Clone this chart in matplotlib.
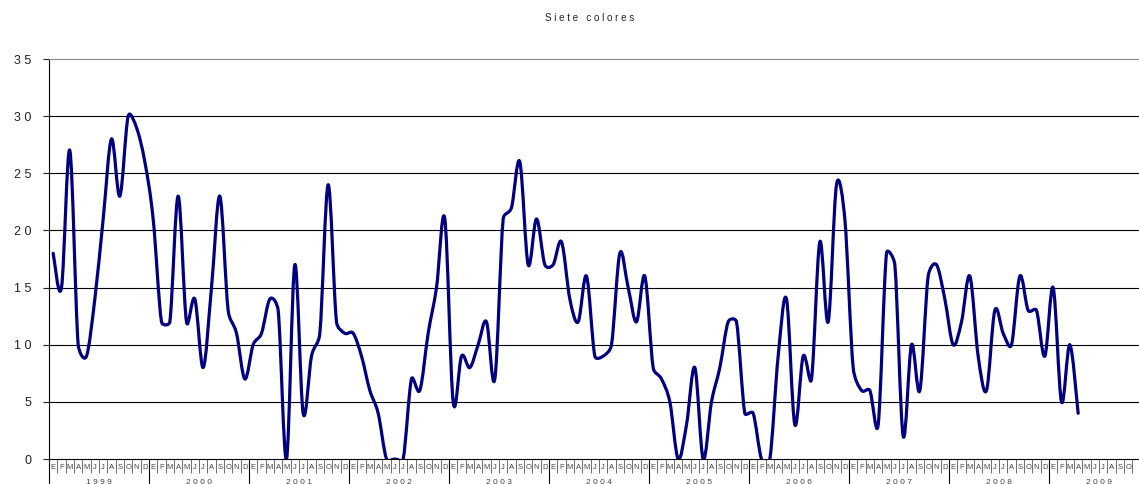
import numpy as np
import matplotlib
matplotlib.use('Agg')
import matplotlib.pyplot as plt
from matplotlib.path import Path
from matplotlib.patches import PathPatch

plt.rcParams['font.family'] = ['Liberation Sans', 'DejaVu Sans']

# monthly values, Jan 1999 .. Apr 2009
v1999 = [18, 15, 27, 10, 9, 14, 21, 28, 23, 30, 29, 26]
v2000 = [21, 12, 12, 23, 12, 14, 8, 15, 23, 13, 11, 7]
v2001 = [10, 11, 14, 13, 0, 17, 4, 9, 11, 24, 12, 11]
v2002 = [11, 9, 6, 4, 0, 0, 0, 7, 6, 11, 15, 21]
v2003 = [5, 9, 8, 10, 12, 7, 21, 22, 26, 17, 21, 17]
v2004 = [17, 19, 14, 12, 16, 9, 9, 10, 18, 15, 12, 16]
v2005 = [8, 7, 5, 0, 3, 8, 0, 5, 8, 12, 12, 4]
v2006 = [4, 0, 0, 9, 14, 3, 9, 7, 19, 12, 24, 21]
v2007 = [8, 6, 6, 3, 18, 17, 2, 10, 6, 16, 17, 14]
v2008 = [10, 12, 16, 9, 6, 13, 11, 10, 16, 13, 13, 9]
v2009 = [15, 5, 10, 4]
values = v1999 + v2000 + v2001 + v2002 + v2003 + v2004 + v2005 + v2006 + v2007 + v2008 + v2009

months = ['E', 'F', 'M', 'A', 'M', 'J', 'J', 'A', 'S', 'O', 'N', 'D']
years = ['1999', '2000', '2001', '2002', '2003', '2004', '2005', '2006', '2007', '2008', '2009']
yticks = [0, 5, 10, 15, 20, 25, 30, 35]
ytick_labels = ['0', '5', '1 0', '1 5', '2 0', '2 5', '3 0', '3 5']

fig = plt.figure(figsize=(11.39, 4.84), dpi=100)
ax = fig.add_axes([49 / 1139, 25 / 484, 1100 / 1139, 400 / 484])

nmonths = 12 * len(years)
ax.set_xlim(-0.5, nmonths - 0.5)
ax.set_ylim(0, 35)

# excel-like smoothed line: bezier through the points, control arms
# limited to half the segment length (measured in screen pixels)
sx = 1100 / nmonths
sy = 400 / 35
pts = np.column_stack([np.arange(len(values)) * sx, np.array(values) * sy]).astype(float)
n = len(pts)
verts = [tuple(pts[0])]
codes = [Path.MOVETO]
for i in range(n - 1):
    p0 = pts[max(i - 1, 0)]
    p1 = pts[i]
    p2 = pts[i + 1]
    p3 = pts[min(i + 2, n - 1)]
    d12 = np.hypot(*(p2 - p1))
    d02 = np.hypot(*(p2 - p0))
    d13 = np.hypot(*(p3 - p1))
    f1 = min(1 / 6, d12 / 2 / d02) if d02 > 0 else 0
    f2 = min(1 / 6, d12 / 2 / d13) if d13 > 0 else 0
    c1 = p1 + (p2 - p0) * f1
    c2 = p2 - (p3 - p1) * f2
    verts += [tuple(c1), tuple(c2), tuple(p2)]
    codes += [Path.CURVE4] * 3
verts = [(vx / sx, vy / sy) for vx, vy in verts]
ax.add_patch(PathPatch(Path(verts, codes), fill=False, edgecolor='#000080',
                       lw=2.3, joinstyle='round', capstyle='round', zorder=3))

for yv in yticks[1:-1]:
    ax.axhline(yv, color='black', lw=0.8, zorder=1)

ax.set_yticks(yticks)
ax.set_yticklabels(ytick_labels)
ax.tick_params(axis='y', length=4.5, width=0.8, pad=8, labelsize=9, colors='#222222')

ax.set_xticks(np.arange(0, nmonths + 1, 12) - 0.5)
ax.set_xticklabels([])
ax.set_xticks(np.arange(nmonths + 1) - 0.5, minor=True)
ax.tick_params(axis='x', which='major', length=20, width=0.8, color='black')
ax.tick_params(axis='x', which='minor', length=10, width=0.6, color='#555555')

trans = ax.get_xaxis_transform()
for k, yr in enumerate(years):
    for m, lab in enumerate(months):
        if 12 * k + m > nmonths - 3:
            continue
        ax.text(12 * k + m, -0.021, lab, transform=trans, ha='center', va='center',
                fontsize=5.5, color='#444444', clip_on=False)
    ax.text(12 * k + 5.5, -0.058, ' '.join(yr), transform=trans, ha='center', va='center',
            fontsize=6, color='#444444', clip_on=False)

ax.spines['left'].set_color('black')
ax.spines['bottom'].set_color('black')
ax.spines['top'].set_color('#888888')
ax.spines['right'].set_visible(False)

fig.text(590 / 1139, 1 - 18 / 484, 'S i e t e   c o l o r e s', ha='center', va='center',
         fontsize=7, color='#222222')

fig.savefig('out.png', dpi=100)
